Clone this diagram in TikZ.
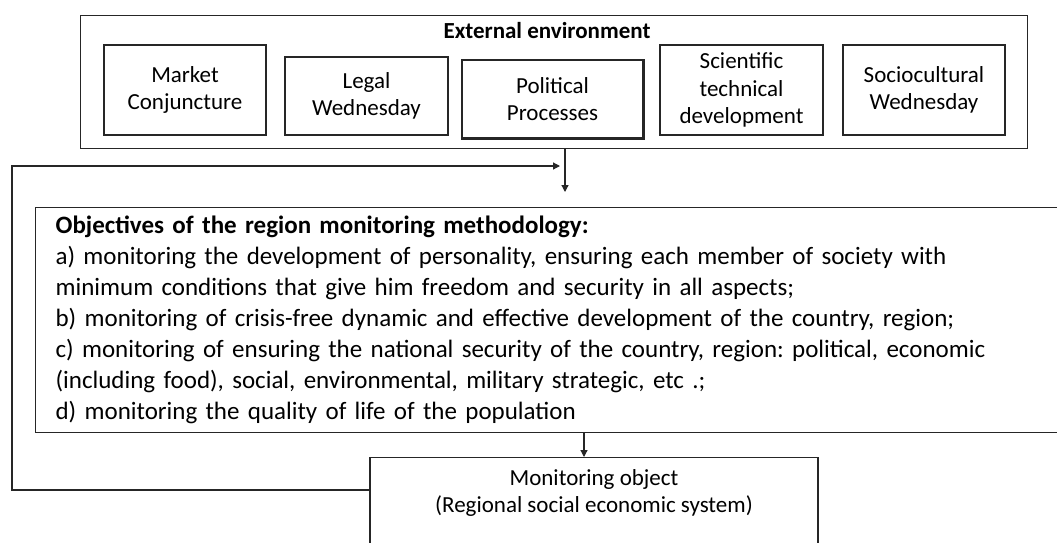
\documentclass[tikz,border=0pt]{standalone}
\usepackage{fontspec}
\setmainfont{Carlito}
\usetikzlibrary{arrows.meta,calc}
\frenchspacing
\begin{document}
\begin{tikzpicture}[x=1pt,y=-1pt,
  line width=1.2pt,
  box/.style={draw=black!85,rectangle,align=center,inner sep=2pt,font=\fontsize{23}{27.5}\selectfont},
  arr/.style={draw=black!85,-{Triangle[length=7pt,width=7pt]}}]
\clip (0,0) rectangle (1057,542);
\fill[white] (0,0) rectangle (1057,542);

% external environment frame and its factors
\node[draw=black!85,rectangle,minimum width=947,minimum height=133,anchor=north west] (ext) at (80,15) {};
\node[font=\fontsize{23}{27}\selectfont\bfseries] (exttitle) at (547,31) {External environment};
\node[box,minimum width=162,minimum height=90] (market) at (185,90) {Market\\Conjuncture};
\node[box,minimum width=163,minimum height=78] (legal) at (366.5,96) {Legal\\Wednesday};
\node[box,minimum width=181,minimum height=78] (polit) at (552.5,99) {Political\\Processes};
\draw[line width=2pt,black!85] (polit.north east) -- (polit.south east) -- (polit.south west);
\node[box,minimum width=163,minimum height=90] (scitech) at (741.5,90) {Scientific\\technical\\development};
\node[box,minimum width=162,minimum height=90] (socio) at (924,90) {Sociocultural\\Wednesday};

% objectives
\node[draw=black!85,rectangle,anchor=north west,minimum width=1040,minimum height=225,
      text width=1000,inner xsep=20,align=left,font=\fontsize{25}{31}\selectfont] (obj) at (35,207)
{\textbf{Objectives of the region monitoring methodology:}\\
a) monitoring the development of personality, ensuring each member of society with\\
minimum conditions that give him freedom and security in all aspects;\\
b) monitoring of crisis-free dynamic and effective development of the country, region;\\
c) monitoring of ensuring the national security of the country, region: political, economic\\
(including food), social, environmental, military strategic, etc .;\\
d) monitoring the quality of life of the population};

% monitoring object
\node[draw=black!85,rectangle,anchor=north,minimum width=448,inner ysep=12,text depth=80,
      align=center,font=\fontsize{23}{27}\selectfont] (mon) at (594,457)
{Monitoring object\\(Regional social economic system)};

% connectors
\coordinate (down) at (565,192);
\coordinate (corner) at (12,166);
\coordinate (join) at (560,166);
\draw[arr] (ext.south -| down) -- (down);
\draw[arr] ($(mon.north west)+(0,33)$) -| (corner) -- (join);
\draw[arr] (obj.south -| 584,0) -- (mon.north -| 584,0);
\end{tikzpicture}
\end{document}
